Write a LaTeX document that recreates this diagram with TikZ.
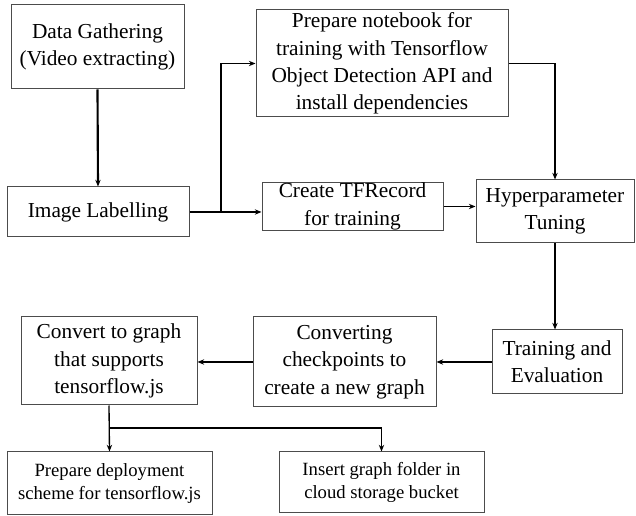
\documentclass[tikz,border=0pt]{standalone}
\usepackage{fontspec}
\setmainfont{Liberation Serif}[Ligatures=TeX]
\usepackage{tikz}
\usetikzlibrary{arrows.meta}

\begin{document}
\begin{tikzpicture}[x=0.75pt,y=0.75pt,yscale=-1,xscale=1,
  box/.style={draw=black!70,line width=0.75pt,align=center,inner sep=0.75pt,font=\fontsize{16}{20.5}\selectfont},
  smallbox/.style={box,font=\fontsize{14}{17.5}\selectfont},
  thick arrow/.style={line width=1.6pt,-{Stealth[length=5pt,width=4pt]}},
  thin arrow/.style={line width=1pt,-{Stealth[length=5pt,width=4pt]}}]

\useasboundingbox (0,0) rectangle (636,516);

% top row
\node (gather) [box,minimum width=129.75pt,minimum height=63pt] at (97.5,47) {Data Gathering\\(Video extracting)};
\node (notebook) [box,minimum width=189pt,minimum height=80.25pt] at (382,63.5) {Prepare notebook for\\training with Tensorflow\\Object Detection API and\\install dependencies};

% middle row
\node (label) [box,minimum width=136.5pt,minimum height=37.5pt] at (98,212) {Image Labelling};
\node (tfrecord) [box,minimum width=135.75pt,minimum height=30.75pt] at (352.5,206.5) {Create TFRecord\\for training};
\node (hyper) [box,minimum width=118.5pt,minimum height=47.25pt] at (555,211.5) {Hyperparameter\\Tuning};

% lower row
\node (train) [box,minimum width=97.5pt,minimum height=48pt] at (557,362) {Training and\\Evaluation};
\node (ckpt) [box,minimum width=137.25pt,minimum height=67.5pt] at (344.5,362) {Converting\\checkpoints to\\create a new graph};
\node (tfjs) [box,minimum width=132pt,minimum height=66pt] at (109,361) {Convert to graph\\that supports\\tensorflow.js};

% bottom row
\node (deploy) [smallbox,minimum width=153.75pt,minimum height=47.25pt] at (109.5,483.5) {Prepare deployment\\scheme for tensorflow.js};
\node (bucket) [smallbox,minimum width=153.75pt,minimum height=45.75pt] at (381.5,482.5) {Insert graph folder in\\cloud storage bucket};

\coordinate (fork) at (221,212);
\coordinate (fork2) at (109,428);

\draw [thick arrow] (gather.south) -- (label.north);
\draw [thick arrow] (label.east) -- (label.east -| tfrecord.west);
\draw [thin arrow] (fork) |- (notebook.west);
\draw [thin arrow] (notebook.east) -| (hyper.north);
\draw [thin arrow] (tfrecord.east) -- (tfrecord.east -| hyper.west);
\draw [thick arrow] (hyper.south) -- (hyper.south |- train.north);
\draw [thick arrow] (train.west) -- (ckpt.east);
\draw [thick arrow] (ckpt.west) -- (ckpt.west -| tfjs.east);
\draw [thin arrow] (tfjs.south) -- (deploy.north);
\draw [thin arrow] (fork2) -| (bucket.north);

\end{tikzpicture}
\end{document}
